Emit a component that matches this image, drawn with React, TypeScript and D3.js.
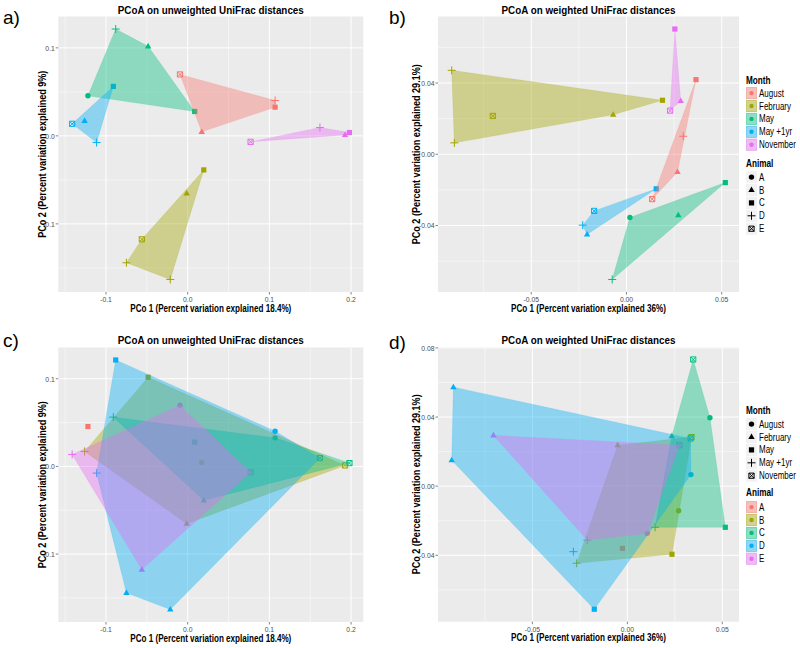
import React from "react";
import * as d3 from "d3";

// ---------- data ----------
const months = ["August", "February", "May", "May +1yr", "November"];
const animals = ["A", "B", "C", "D", "E"];
const hueColors = ["#F8766D", "#A3A500", "#00BF7D", "#00B0F6", "#E76BF3"];
const shapeKinds = ["circle", "triangle", "square", "plus", "boxcross"];

// [month, animal, PCo1, PCo2]
const unweightedSamples: [string, string, number, number][] = [
  ["May", "A", -0.1221, 0.0455],
  ["May", "B", -0.0484, 0.1017],
  ["May", "C", 0.0086, 0.0277],
  ["May", "D", -0.0881, 0.1214],
  ["May +1yr", "B", -0.1262, 0.0171],
  ["May +1yr", "C", -0.091, 0.0562],
  ["May +1yr", "D", -0.1115, -0.0076],
  ["May +1yr", "E", -0.1414, 0.0137],
  ["August", "B", 0.0172, 0.0046],
  ["August", "C", 0.107, 0.0326],
  ["August", "D", 0.107, 0.0402],
  ["August", "E", -0.0094, 0.0698],
  ["February", "B", -0.0012, -0.0653],
  ["February", "C", 0.0197, -0.0387],
  ["February", "D", -0.075, -0.1442],
  ["February", "D", -0.0213, -0.1632],
  ["February", "E", -0.0561, -0.1176],
  ["November", "B", 0.1926, 0.0011],
  ["November", "C", 0.198, 0.0038],
  ["November", "D", 0.1619, 0.0095],
  ["November", "E", 0.077, -0.0068],
];

const weightedSamplesB: [string, string, number, number][] = [
  ["February", "D", -0.0918, 0.0471],
  ["February", "D", -0.0904, 0.0064],
  ["February", "E", -0.0702, 0.0215],
  ["February", "B", -0.007, 0.0222],
  ["February", "C", 0.0189, 0.0303],
  ["November", "C", 0.0254, 0.0703],
  ["November", "B", 0.0285, 0.0299],
  ["November", "E", 0.0229, 0.0245],
  ["August", "C", 0.0365, 0.0419],
  ["August", "D", 0.0298, 0.0101],
  ["August", "B", 0.0268, -0.0099],
  ["August", "E", 0.0135, -0.0252],
  ["May +1yr", "C", 0.0156, -0.0194],
  ["May +1yr", "E", -0.017, -0.0318],
  ["May +1yr", "D", -0.023, -0.0398],
  ["May +1yr", "B", -0.0207, -0.045],
  ["May", "C", 0.0519, -0.0159],
  ["May", "B", 0.0272, -0.0342],
  ["May", "A", 0.0018, -0.0355],
  ["May", "D", -0.0075, -0.0703],
];

const weightedSamplesD: [string, string, number, number][] = [
  ["February", "D", -0.0916, 0.0573],
  ["February", "D", -0.0925, 0.015],
  ["February", "E", -0.0705, 0.0294],
  ["February", "B", -0.0051, 0.0237],
  ["February", "C", 0.0234, 0.0289],
  ["November", "C", 0.0347, 0.0733],
  ["November", "B", 0.0338, 0.0284],
  ["November", "D", 0.0333, 0.0276],
  ["November", "E", 0.0274, 0.0237],
  ["August", "C", 0.0435, 0.0396],
  ["August", "D", 0.0335, 0.0067],
  ["August", "B", 0.027, -0.0142],
  ["August", "E", 0.0105, -0.0273],
  ["May +1yr", "C", 0.0146, -0.0238],
  ["May +1yr", "E", -0.0211, -0.0312],
  ["May +1yr", "D", -0.0284, -0.0379],
  ["May +1yr", "B", -0.0267, -0.0446],
  ["May", "C", 0.0516, -0.0238],
  ["May", "B", 0.0235, -0.0394],
  ["May", "A", -0.0026, -0.036],
  ["May", "D", -0.0174, -0.0712],
];

const unweightedXTicks = [-0.1, 0.0, 0.1, 0.2];
const unweightedYTicks = [-0.1, 0.0, 0.1];
const weightedXTicks = [-0.05, 0.0, 0.05];
const weightedYTicksB = [-0.04, 0.0, 0.04];
const weightedYTicksD = [-0.04, 0.0, 0.04, 0.08];

const titleUnweighted = "PCoA on unweighted UniFrac distances";
const titleWeighted = "PCoA on weighted UniFrac distances";
const xlabUnweighted = "PCo 1 (Percent variation explained 18.4%)";
const ylabUnweighted = "PCo 2 (Percent variation explained 9%)";
const xlabWeighted = "PCo 1 (Percent variation explained 36%)";
const ylabWeighted = "PCo 2 (Percent variation explained 29.1%)";

// ---------- styling ----------
const FONT = "'Liberation Sans', Arial, Helvetica, sans-serif";
const locale = d3.formatLocale({ decimal: ".", thousands: ",", grouping: [3], currency: ["$", ""], minus: "-" });

function Shape({ kind, x, y, color }: { kind: string; x: number; y: number; color: string }) {
  switch (kind) {
    case "circle":
      return <circle cx={x} cy={y} r={2.7} fill={color} />;
    case "triangle":
      return <path d={`M${x},${y - 3.5}L${x + 3.2},${y + 2.1}L${x - 3.2},${y + 2.1}Z`} fill={color} />;
    case "square":
      return <rect x={x - 2.6} y={y - 2.6} width={5.2} height={5.2} fill={color} />;
    case "plus":
      return <path d={`M${x - 4},${y}H${x + 4}M${x},${y - 4}V${y + 4}`} stroke={color} strokeWidth={1} fill="none" />;
    default:
      return (
        <path
          d={`M${x - 2.6},${y - 2.6}h5.2v5.2h-5.2Z M${x - 2.6},${y - 2.6}L${x + 2.6},${y + 2.6}M${x + 2.6},${y - 2.6}L${x - 2.6},${y + 2.6}`}
          stroke={color}
          strokeWidth={1}
          fill="none"
        />
      );
  }
}

function Txt(props: any) {
  const { x, y, sx = 0.86, anchor = "start", size = 9, weight = "normal", fill = "#000", children } = props;
  return (
    <text
      transform={`translate(${x},${y}) scale(${sx},1)`}
      textAnchor={anchor}
      fontSize={size}
      fontWeight={weight}
      fill={fill}
      fontFamily={FONT}
    >
      {children}
    </text>
  );
}

function minorTicks(major: number[], domain: number[]) {
  const step = major[1] - major[0];
  const out: number[] = [major[0] - step / 2];
  for (let i = 0; i < major.length - 1; i++) out.push((major[i] + major[i + 1]) / 2);
  out.push(major[major.length - 1] + step / 2);
  return out.filter((v) => v >= domain[0] && v <= domain[1]);
}

function Panel({ cfg }: { cfg: any }) {
  const { box, samples, colorBy, xTicks, yTicks, fmt, title, xlab, ylab, titleW, xlabW, ylabW, ytitleX, letter, letterX, letterY, titleY } = cfg;
  const xs = samples.map((s: any) => s[2]);
  const ys = samples.map((s: any) => s[3]);
  const [x0, x1] = d3.extent(xs) as [number, number];
  const [y0, y1] = d3.extent(ys) as [number, number];
  const ex = (x1 - x0) * 0.05;
  const ey = (y1 - y0) * 0.05;
  const x = d3.scaleLinear().domain([x0 - ex, x1 + ex]).range([box.l, box.r]);
  const y = d3.scaleLinear().domain([y0 - ey, y1 + ey]).range([box.b, box.t]);
  const f = locale.format(fmt);
  const xMinor = minorTicks(xTicks, x.domain());
  const yMinor = minorTicks(yTicks, y.domain());

  const colorIdx = (s: any) => (colorBy === "month" ? months.indexOf(s[0]) : animals.indexOf(s[1]));
  const shapeIdx = (s: any) => (colorBy === "month" ? animals.indexOf(s[1]) : months.indexOf(s[0]));
  const groups = colorBy === "month" ? months : animals;

  const hulls = groups.map((g, gi) => {
    const pts = samples.filter((s: any) => colorIdx(s) === gi).map((s: any) => [x(s[2]), y(s[3])] as [number, number]);
    if (pts.length < 3) return null;
    const h = d3.polygonHull(pts);
    if (!h) return null;
    return { gi, d: "M" + h.map((p) => p.join(",")).join("L") + "Z" };
  });

  return (
    <g>
      <text x={letterX} y={letterY} fontSize={19} fontFamily={FONT}>{letter}</text>
      <text
        x={(box.l + box.r) / 2}
        y={titleY}
        textAnchor="middle"
        fontSize={11}
        fontWeight="bold"
        fontFamily={FONT}
        textLength={titleW}
        lengthAdjust="spacingAndGlyphs"
      >
        {title}
      </text>
      <rect x={box.l} y={box.t} width={box.r - box.l} height={box.b - box.t} fill="#EBEBEB" />
      {xMinor.map((v: number, i: number) => (
        <line key={"xm" + i} x1={x(v)} x2={x(v)} y1={box.t} y2={box.b} stroke="#fff" strokeWidth={0.5} />
      ))}
      {yMinor.map((v: number, i: number) => (
        <line key={"ym" + i} y1={y(v)} y2={y(v)} x1={box.l} x2={box.r} stroke="#fff" strokeWidth={0.5} />
      ))}
      {xTicks.map((v: number, i: number) => (
        <line key={"xM" + i} x1={x(v)} x2={x(v)} y1={box.t} y2={box.b} stroke="#fff" strokeWidth={1} />
      ))}
      {yTicks.map((v: number, i: number) => (
        <line key={"yM" + i} y1={y(v)} y2={y(v)} x1={box.l} x2={box.r} stroke="#fff" strokeWidth={1} />
      ))}
      {samples.map((s: any, i: number) => (
        <Shape key={"p" + i} kind={shapeKinds[shapeIdx(s)]} x={x(s[2])} y={y(s[3])} color={hueColors[colorIdx(s)]} />
      ))}
      {hulls.map((h: any) =>
        h ? (
          <path
            key={"h" + h.gi}
            d={h.d}
            fill={hueColors[h.gi]}
            fillOpacity={0.4}
            stroke={hueColors[h.gi]}
            strokeOpacity={0.3}
            strokeWidth={0.5}
          />
        ) : null
      )}
      {xTicks.map((v: number, i: number) => (
        <g key={"xt" + i}>
          <line x1={x(v)} x2={x(v)} y1={box.b} y2={box.b + 2.5} stroke="#333" strokeWidth={0.6} />
          <Txt x={x(v)} y={box.b + 9.8} anchor="middle" size={8} sx={0.85} fill="#4D4D4D">{f(v)}</Txt>
        </g>
      ))}
      {yTicks.map((v: number, i: number) => (
        <g key={"yt" + i}>
          <line x1={box.l - 2.5} x2={box.l} y1={y(v)} y2={y(v)} stroke="#333" strokeWidth={0.6} />
          <Txt x={box.l - 3.5} y={y(v) + 2.8} anchor="end" size={8} sx={0.85} fill="#4D4D4D">{f(v)}</Txt>
        </g>
      ))}
      <text
        x={(box.l + box.r) / 2}
        y={box.b + 19.5}
        textAnchor="middle"
        fontSize={10}
        fontWeight="bold"
        fontFamily={FONT}
        textLength={xlabW}
        lengthAdjust="spacingAndGlyphs"
      >
        {xlab}
      </text>
      <text
        transform={`translate(${ytitleX + 3.5},${(box.t + box.b) / 2}) rotate(-90)`}
        textAnchor="middle"
        fontSize={10}
        fontWeight="bold"
        fontFamily={FONT}
        textLength={ylabW}
        lengthAdjust="spacingAndGlyphs"
      >
        {ylab}
      </text>
    </g>
  );
}

function Legend({ x, monthTitleY, monthKeyY, animalTitleY, animalKeyY, colorBy }: any) {
  const keyW = 11;
  const keyH = 12.2;
  const step = 12.9;
  const fillKey = (i: number, ky: number) => (
    <g key={"fk" + i}>
      <rect x={x} y={ky} width={keyW} height={keyH} fill="#F2F2F2" />
      <rect x={x + 0.5} y={ky + 0.5} width={keyW - 1} height={keyH - 1} fill={hueColors[i]} fillOpacity={0.4} stroke={hueColors[i]} strokeOpacity={0.5} strokeWidth={0.8} />
      <circle cx={x + keyW / 2} cy={ky + keyH / 2} r={2.2} fill={hueColors[i]} />
    </g>
  );
  const shapeKey = (i: number, ky: number) => (
    <g key={"sk" + i}>
      <rect x={x} y={ky} width={keyW} height={keyH} fill="#F2F2F2" />
      <Shape kind={shapeKinds[i]} x={x + keyW / 2} y={ky + keyH / 2} color="#000" />
    </g>
  );
  const block = (labels: string[], titleText: string, ty: number, ky: number, isFill: boolean) => (
    <g>
      <Txt x={x} y={ty} size={10} sx={0.82} weight="bold">{titleText}</Txt>
      {labels.map((lab, i) => {
        const kyi = ky + i * step;
        return (
          <g key={titleText + i}>
            {isFill ? fillKey(i, kyi) : shapeKey(i, kyi)}
            <Txt x={x + keyW + 2} y={kyi + keyH / 2 + 3.5} size={10} sx={0.8}>{lab}</Txt>
          </g>
        );
      })}
    </g>
  );
  return (
    <g>
      {block(months, "Month", monthTitleY, monthKeyY, colorBy === "month")}
      {block(animals, "Animal", animalTitleY, animalKeyY, colorBy === "animal")}
    </g>
  );
}

const panelConfigs = [
  {
    letter: "a)", letterX: 3, letterY: 24, titleY: 14,
    box: { l: 58.3, r: 363.3, t: 16.5, b: 292 },
    samples: unweightedSamples, colorBy: "month", xTicks: unweightedXTicks, yTicks: unweightedYTicks, fmt: ".1f",
    title: titleUnweighted, xlab: xlabUnweighted, ylab: ylabUnweighted, titleW: 186, xlabW: 161, ylabW: 167, ytitleX: 42.7,
  },
  {
    letter: "b)", letterX: 389, letterY: 24, titleY: 14,
    box: { l: 438, r: 739, t: 16.5, b: 292 },
    samples: weightedSamplesB, colorBy: "month", xTicks: weightedXTicks, yTicks: weightedYTicksB, fmt: ".2f",
    title: titleWeighted, xlab: xlabWeighted, ylab: ylabWeighted, titleW: 174, xlabW: 155, ylabW: 180, ytitleX: 416,
  },
  {
    letter: "c)", letterX: 3, letterY: 347, titleY: 344,
    box: { l: 58.3, r: 363.3, t: 347.5, b: 622 },
    samples: unweightedSamples, colorBy: "animal", xTicks: unweightedXTicks, yTicks: unweightedYTicks, fmt: ".1f",
    title: titleUnweighted, xlab: xlabUnweighted, ylab: ylabUnweighted, titleW: 186, xlabW: 161, ylabW: 167, ytitleX: 42.7,
  },
  {
    letter: "d)", letterX: 389, letterY: 349, titleY: 344,
    box: { l: 438, r: 739, t: 347, b: 621.7 },
    samples: weightedSamplesD, colorBy: "animal", xTicks: weightedXTicks, yTicks: weightedYTicksD, fmt: ".2f",
    title: titleWeighted, xlab: xlabWeighted, ylab: ylabWeighted, titleW: 174, xlabW: 155, ylabW: 180, ytitleX: 416.5,
  },
];

export default function App() {
  return (
    <svg width={800} height={648} style={{ position: "absolute", left: 0, top: 0, background: "#fff" }}>
      <rect width={800} height={648} fill="#fff" />
      {panelConfigs.map((c, i) => (
        <Panel key={i} cfg={c} />
      ))}
      <Legend x={746} monthTitleY={83.5} monthKeyY={87} animalTitleY={166.5} animalKeyY={171} colorBy="month" />
      <Legend x={746} monthTitleY={413.5} monthKeyY={418} animalTitleY={496} animalKeyY={501} colorBy="animal" />
    </svg>
  );
}
